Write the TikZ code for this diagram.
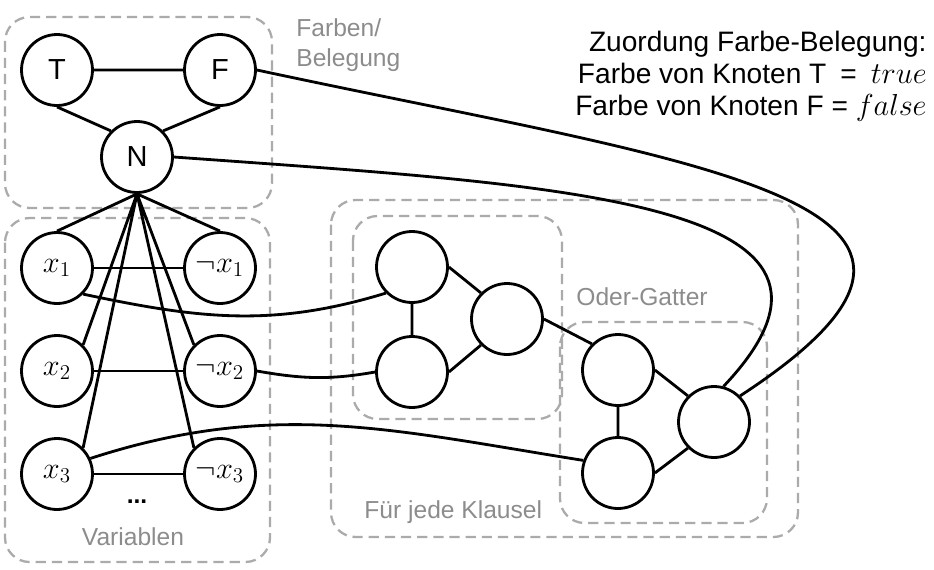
\documentclass[tikz,border=0pt]{standalone}
\usepackage[no-math]{fontspec}
\setmainfont{Liberation Sans}

\begin{document}
\begin{tikzpicture}[x=0.02cm,y=0.02cm,line width=1.6pt]
%  \draw [step=50,color=gray] (0,0) grid (934,-569);
  \useasboundingbox (0,0) rectangle (934,-569);
  \tikzstyle {vertex}=[draw,shape=circle,minimum size=1.42cm,inner sep=0pt,
                      font=\fontsize{16.5}{19}\selectfont];
  \tikzstyle {group}=[draw=black!33,line width=1.3pt,
                      dash pattern=on 5.8pt off 3.4pt,rounded corners=14pt];
  \tikzstyle {caption}=[text=black!45,inner sep=0pt,
                      font=\fontsize{14}{17}\selectfont];

  \draw [group] (5,-17) rectangle (272,-208);
  \draw [group] (5,-218) rectangle (270,-562);
  \draw [group] (331,-200) rectangle (798,-537);
  \draw [group] (353,-216) rectangle (562,-419);
  \draw [group] (560,-322) rectangle (767,-523);

  \path (295,-17) node [caption,anchor=north west,align=left] (farben) {Farben/\\Belegung};
  \path (133,-545) node [caption,anchor=base] (variablen) {Variablen};
  \path (363,-518) node [caption,anchor=base west] (klausel) {Für jede Klausel};
  \path (575,-305) node [caption,anchor=base west] (oder) {Oder-Gatter};
  \path (928,-30) node [anchor=north east,align=right,inner sep=0pt,
                        font=\fontsize{16}{18}\selectfont] (legend)
    {Zuordung Farbe-Belegung:\\
     Farbe von Knoten T\enspace=\enspace$true$\\
     Farbe von Knoten F = $false$};

  \path (57,-70) node [vertex] (T) {T};
  \path (220,-70) node [vertex] (F) {F};
  \path (137,-157) node [vertex] (N) {N};
  \path (57,-268) node [vertex] (x1) {$x_1$};
  \path (220,-268) node [vertex] (nx1) {$\neg x_1$};
  \path (57,-371) node [vertex] (x2) {$x_2$};
  \path (220,-371) node [vertex] (nx2) {$\neg x_2$};
  \path (57,-474) node [vertex] (x3) {$x_3$};
  \path (220,-474) node [vertex] (nx3) {$\neg x_3$};
  \path (137,-503) node [anchor=base,font=\fontsize{14}{17}\selectfont] (dots) {\textbf{...}};

  % Klausel
  \path (412,-267) node [vertex] (k1) {};
  \path (412,-372) node [vertex] (k2) {};
  \path (507,-319) node [vertex] (k3) {};
  % Oder-Gatter
  \path (618,-370) node [vertex] (o1) {};
  \path (618,-473) node [vertex] (o2) {};
  \path (714,-422) node [vertex] (o3) {};

  \draw (T) -- (F)
        (T.south) -- (N.north west)
        (F.south) -- (N.north east);
  \draw (N.south) -- (x1.north)
        (N.south) -- (nx1.north)
        (N.south) -- (x2.north east)
        (N.south) -- (nx2.north west)
        (N.south) -- (x3.north east)
        (N.south) -- (nx3.north west);
  \draw (x1) -- (nx1)
        (x2) -- (nx2)
        (x3) -- (nx3);
  \draw (k1.south) -- (k2.north)
        (k1.east) -- (k3.north west)
        (k2.east) -- (k3.south west)
        (k3.east) -- (o1.north west)
        (o1.south) -- (o2.north)
        (o1.east) -- (o3.north west)
        (o2.east) -- (o3.south west);

  \draw (x1.south east) to[out=-12,in=197] (k1.south west);
  \draw (nx2.east) to[out=-10,in=190] (k2.west);
  \draw (x3.25) to[out=18,in=171] (o2.160);
  \draw (F.east) .. controls (700,-165) and (1040,-200) .. (o3.north east);
  \draw (N.east) .. controls (560,-185) and (900,-200) .. (o3.75);
\end{tikzpicture}
\end{document}
